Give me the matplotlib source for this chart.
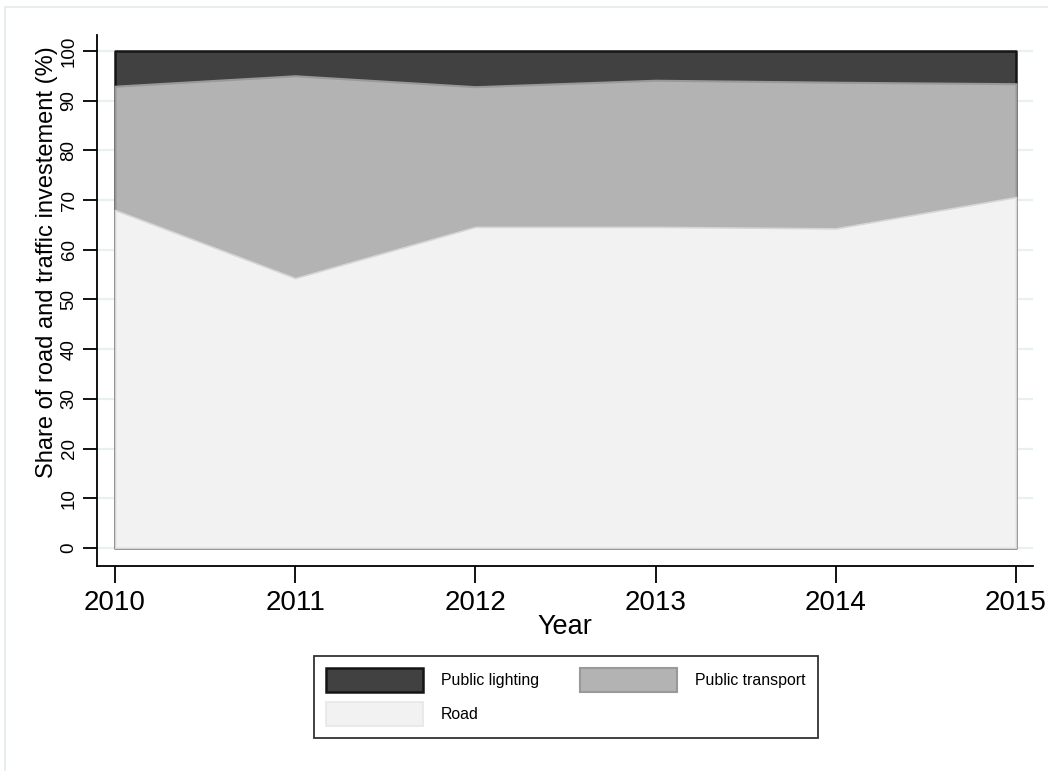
import numpy as np
import matplotlib
matplotlib.use('Agg')
import matplotlib.pyplot as plt
from matplotlib.patches import Patch, Rectangle

plt.rcParams['font.family'] = ['Liberation Sans', 'DejaVu Sans']

# data (shares in %)
years = [2010, 2011, 2012, 2013, 2014, 2015]
road = [68.0, 54.3, 64.6, 64.6, 64.3, 70.6]
public_transport = [24.9, 40.7, 28.2, 29.5, 29.4, 22.8]
public_lighting = [7.1, 5.0, 7.2, 5.9, 6.3, 6.6]
y_ticks = [0, 10, 20, 30, 40, 50, 60, 70, 80, 90, 100]

road_top = np.array(road)
transport_top = road_top + np.array(public_transport)
lighting_top = transport_top + np.array(public_lighting)

fig = plt.figure(figsize=(10.48, 7.71), dpi=100)
ax = fig.add_axes([97 / 1048, 1 - 566 / 771, (1033 - 97) / 1048, (566 - 35) / 771])

# outer graph region frame
fig.patches.append(Rectangle((5 / 1048, -0.1), 1.2, 1.1 - 7.5 / 771, transform=fig.transFigure,
                             fill=False, edgecolor='#e4eaec', linewidth=1.2, zorder=0))

# grid
for t in y_ticks:
    ax.axhline(t, color='#e8f0f2', linewidth=1.6, zorder=0)

# stacked areas drawn from zero, back to front (Stata style)
ax.fill_between(years, 0, lighting_top, facecolor='#414141', edgecolor='#151515', linewidth=1.8, zorder=2)
ax.fill_between(years, 0, transport_top, facecolor='#b3b3b3', edgecolor='#999999', linewidth=1.5, zorder=3)
ax.fill_between(years, 0, road_top, facecolor='#f2f2f2', edgecolor='#d6d6d6', linewidth=1.2, zorder=4)

ax.set_xlim(2009.9, 2015.094)
ax.set_ylim(-3.62, 103.2)
ax.set_xticks(years)
ax.set_yticks(y_ticks)
ax.tick_params(axis='x', labelsize=20, length=12, width=1.3, pad=5)
ax.tick_params(axis='y', labelsize=13.5, length=10, width=1.3, pad=4)
for lab in ax.get_yticklabels():
    lab.set_rotation(90)
    lab.set_va('center')

for s in ['top', 'right']:
    ax.spines[s].set_visible(False)
for s in ['left', 'bottom']:
    ax.spines[s].set_linewidth(1.3)
    ax.spines[s].set_color('black')

ax.set_xlabel('Year', fontsize=19.5, labelpad=-1)
ax.set_ylabel('Share of road and traffic investement (%)', fontsize=17, labelpad=2)
ax.yaxis.label.set_y(0.573)

# legend laid out row-wise: lighting | transport / road
handles = [
    Patch(facecolor='#414141', edgecolor='#151515', linewidth=1.8, label='Public lighting'),
    Patch(facecolor='#f2f2f2', edgecolor='#e6e6e6', linewidth=1.2, label='Road'),
    Patch(facecolor='#b3b3b3', edgecolor='#999999', linewidth=1.5, label='Public transport'),
]
leg = fig.legend(handles=handles, ncol=2, loc='center', bbox_to_anchor=(566 / 1048, 1 - 697 / 771),
                 fontsize=11.4, frameon=True, fancybox=False, edgecolor='black',
                 handlelength=6.1, handleheight=1.95, handletextpad=1.15, columnspacing=2.6,
                 labelspacing=0.62, borderpad=0.75)
leg.get_frame().set_linewidth(1.3)

fig.savefig('out.png', dpi=100, facecolor='white')
